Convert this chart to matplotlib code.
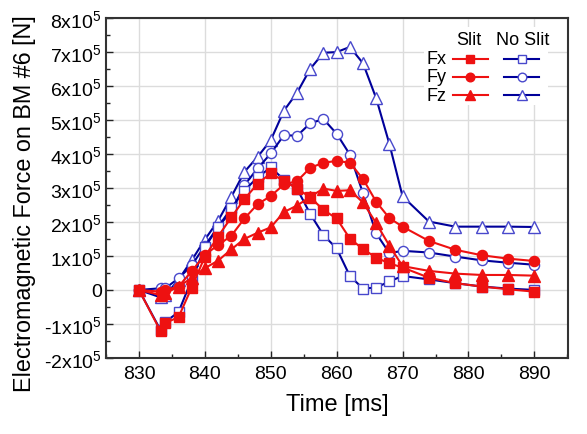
import matplotlib
matplotlib.use("Agg")
import matplotlib.pyplot as plt
from matplotlib.lines import Line2D
from matplotlib.patches import Rectangle
from matplotlib.ticker import MultipleLocator, FixedLocator

plt.rcParams['font.family'] = ['Liberation Sans', 'DejaVu Sans']
plt.rcParams['mathtext.fontset'] = 'custom'
plt.rcParams['mathtext.rm'] = 'Liberation Sans'
plt.rcParams['mathtext.it'] = 'Liberation Sans:italic'
plt.rcParams['mathtext.bf'] = 'Liberation Sans:bold'

# ---------------- data (units of 1e5 N) ----------------
time = [830, 833.3, 834, 836, 838, 840, 842, 844, 846, 848, 850, 852, 854, 856,
        858, 860, 862, 864, 866, 868, 870, 874, 878, 882, 886, 890]

slit_fx = [0, -1.22, -0.97, -0.80, 0.07, 0.98, 1.57, 2.13, 2.67, 3.12, 3.43, 3.20,
           2.98, 2.72, 2.35, 2.10, 1.51, 1.20, 0.95, 0.78, 0.66, 0.36, 0.20, 0.10,
           0.02, -0.05]
slit_fy = [0, -0.05, 0.0, 0.10, 0.55, 1.03, 1.32, 1.59, 2.10, 2.52, 2.76, 3.10,
           3.20, 3.59, 3.74, 3.79, 3.74, 3.26, 2.59, 2.11, 1.86, 1.44, 1.18, 1.02,
           0.92, 0.85]
slit_fz = [0, -0.15, -0.10, 0.10, 0.35, 0.64, 0.86, 1.19, 1.50, 1.68, 1.84, 2.29,
           2.48, 2.74, 2.98, 2.91, 2.93, 2.57, 1.96, 1.30, 0.70, 0.56, 0.48, 0.44,
           0.44, 0.42]

noslit_fx = [0, -1.19, -0.94, -0.65, 0.30, 1.25, 1.85, 2.40, 2.92, 3.31, 3.60, 3.24,
             2.97, 2.23, 1.61, 1.22, 0.41, 0.04, 0.07, 0.25, 0.41, 0.31, 0.20, 0.10,
             0.04, 0.0]
noslit_fy = [0, 0.05, 0.05, 0.34, 0.72, 1.30, 1.85, 2.31, 3.08, 3.57, 4.01, 4.55,
             4.53, 4.90, 5.02, 4.59, 3.98, 2.84, 1.66, 1.08, 1.15, 1.10, 0.98, 0.87,
             0.80, 0.74]
noslit_fz = [0, -0.22, -0.16, 0.30, 0.87, 1.48, 2.03, 2.73, 3.47, 3.91, 4.40, 5.27,
             5.80, 6.50, 6.97, 6.99, 7.14, 6.66, 5.63, 4.29, 2.75, 2.01, 1.86, 1.86,
             1.86, 1.85]

yticks = [-2, -1, 0, 1, 2, 3, 4, 5, 6, 7, 8]
ytick_labels = ['-2x10$^5$', '-1x10$^5$', '0', '1x10$^5$', '2x10$^5$', '3x10$^5$',
                '4x10$^5$', '5x10$^5$', '6x10$^5$', '7x10$^5$', '8x10$^5$']
xticks = [830, 840, 850, 860, 870, 880, 890]

SCALE = 1e5
RED = '#ee1111'
BLUE_LINE = '#00009a'
BLUE_MK = '#4848cc'

fig = plt.figure(figsize=(5.87, 4.35), dpi=100)
ax = fig.add_axes([0.1806, 0.1747, 0.787, 0.7823])

def sc(v):
    return [x * SCALE for x in v]

common = dict(lw=1.5, zorder=3)
ax.plot(time, sc(noslit_fz), color=BLUE_LINE, marker='^', ms=8, mfc='white',
        mec=BLUE_MK, mew=1.0, **common)
ax.plot(time, sc(noslit_fy), color=BLUE_LINE, marker='o', ms=7.3, mfc='white',
        mec=BLUE_MK, mew=1.0, **common)
ax.plot(time, sc(noslit_fx), color=BLUE_LINE, marker='s', ms=6.5, mfc='white',
        mec=BLUE_MK, mew=1.0, **common)
ax.plot(time, sc(slit_fz), color=RED, marker='^', ms=8, mfc=RED, mec=RED, **common)
ax.plot(time, sc(slit_fy), color=RED, marker='o', ms=7.3, mfc=RED, mec=RED, **common)
ax.plot(time, sc(slit_fx), color=RED, marker='s', ms=6.5, mfc=RED, mec=RED, **common)

ax.set_xlim(825, 895.1)
ax.set_ylim(-2 * SCALE, 8 * SCALE)
ax.xaxis.set_major_locator(FixedLocator(xticks))
ax.xaxis.set_minor_locator(MultipleLocator(5))
ax.set_yticks([v * SCALE for v in yticks])
ax.set_yticklabels(ytick_labels)
ax.yaxis.set_minor_locator(MultipleLocator(0.5 * SCALE))

ax.grid(True, which='major', color='#dcdcdc', lw=1.0, zorder=0)
ax.set_axisbelow(True)
ax.tick_params(axis='both', which='major', direction='in', length=5, width=1.0,
               labelsize=14, top=False, right=False, colors='#222222', pad=5)
ax.tick_params(axis='both', which='minor', direction='in', length=3, width=1.0,
               top=False, right=False, colors='#222222')
for lab in ax.get_xticklabels() + ax.get_yticklabels():
    lab.set_color('black')
ax.tick_params(axis='y', which='major', pad=3)
for s in ax.spines.values():
    s.set_color('#333333')
    s.set_linewidth(1.5)

ax.set_xlabel('Time [ms]', fontsize=17, labelpad=8)
ax.set_ylabel('Electromagnetic Force on BM #6 [N]', fontsize=16.8)
ax.yaxis.set_label_coords(-0.152, 0.458)

# ---------------- custom legend ----------------
def axx(px):
    return (px - 106) / 462.0

def axy(py):
    return (359 - py) / 340.3

ax.add_patch(Rectangle((axx(424), axy(106)), axx(548) - axx(424), axy(28) - axy(106),
                       transform=ax.transAxes, facecolor='white', edgecolor='none',
                       zorder=2))
ax.text(axx(468.5), axy(40), 'Slit', transform=ax.transAxes, ha='center', va='center',
        fontsize=13, zorder=4)
ax.text(axx(523), axy(40), 'No Slit', transform=ax.transAxes, ha='center', va='center',
        fontsize=13, zorder=4)
rows = [('Fx', 's', 6.5, 59.5), ('Fy', 'o', 7.3, 77.5), ('Fz', '^', 8, 96)]
for lab, mk, ms, py in rows:
    ax.text(axx(437), axy(py), lab, transform=ax.transAxes, ha='center', va='center',
            fontsize=13, zorder=4)
    ax.add_line(Line2D([axx(453), axx(488.5)], [axy(py), axy(py)], transform=ax.transAxes,
                       color=RED, lw=1.5, zorder=4))
    ax.add_line(Line2D([axx(470.5)], [axy(py)], transform=ax.transAxes, marker=mk,
                       ms=ms * 0.85, color=RED, mfc=RED, mec=RED, zorder=5))
    ax.add_line(Line2D([axx(504), axx(539.5)], [axy(py), axy(py)], transform=ax.transAxes,
                       color=BLUE_LINE, lw=1.5, zorder=4))
    ax.add_line(Line2D([axx(521.7)], [axy(py)], transform=ax.transAxes, marker=mk,
                       ms=ms * 0.85, color=BLUE_LINE, mfc='white', mec=BLUE_MK, mew=1.0,
                       zorder=5))

fig.savefig('out.png', dpi=100)
